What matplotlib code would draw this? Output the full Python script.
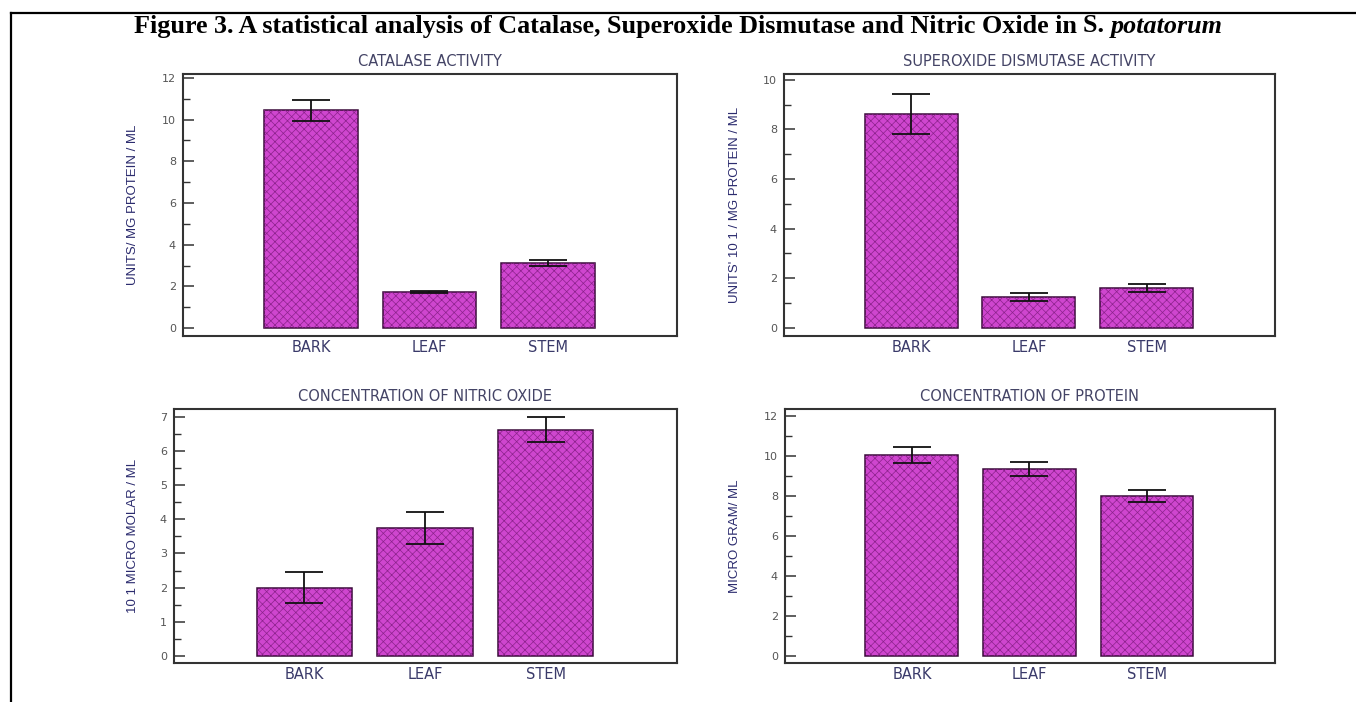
import numpy as np
import matplotlib
matplotlib.use("Agg")
import matplotlib.pyplot as plt
from matplotlib.lines import Line2D

# data
tissues = ["BARK", "LEAF", "STEM"]

catalase = [10.45, 1.72, 3.12]
catalase_err = [0.5, 0.06, 0.16]

sod = [8.62, 1.25, 1.6]
sod_err = [0.8, 0.16, 0.17]

nitric = [2.0, 3.75, 6.62]
nitric_err = [0.45, 0.47, 0.37]

protein = [10.05, 9.35, 8.0]
protein_err = [0.42, 0.37, 0.3]

titles = ["CATALASE ACTIVITY", "SUPEROXIDE DISMUTASE ACTIVITY",
          "CONCENTRATION OF NITRIC OXIDE", "CONCENTRATION OF PROTEIN"]
ylabels = ["UNITS/ MG PROTEIN / ML", "UNITS' 10 1 / MG PROTEIN / ML",
           "10 1 MICRO MOLAR / ML", "MICRO GRAM/ ML"]

W, H = 1356, 702
plt.rcParams["hatch.linewidth"] = 0.5
fig = plt.figure(figsize=(W / 100, H / 100), dpi=100)

# axes boxes in pixels: left, right, top, bottom
boxes = [(183, 677, 74, 336), (784, 1275, 74, 336),
         (174, 677, 409, 663), (785, 1275, 409, 663)]
ylims = [(-0.38, 12.19), (-0.34, 10.24), (-0.2, 7.22), (-0.35, 12.35)]
majors = [2, 2, 1, 2]
label_dx = [50, 49, 41, 50]
series = [(catalase, catalase_err), (sod, sod_err),
          (nitric, nitric_err), (protein, protein_err)]

navy = "#2b2b6e"
x = np.arange(len(tissues))

for i, (vals, errs) in enumerate(series):
    l, r, t, b = boxes[i]
    ax = fig.add_axes([l / W, 1 - b / H, (r - l) / W, (b - t) / H])
    ax.bar(x, vals, width=0.79, color="#cf46cf", edgecolor="#3a0a3a",
           linewidth=1.1, zorder=2)
    ax.bar(x, vals, width=0.79, color="none", edgecolor="#8c228c",
           hatch="xxxx", linewidth=0, zorder=2.5)
    ax.errorbar(x, vals, yerr=errs, fmt="none", ecolor="#111111",
                elinewidth=1.3, capsize=13.5, capthick=1.3, zorder=3)
    ax.set_xlim(-1.08, 3.09)
    ax.set_ylim(*ylims[i])
    top = int(ylims[i][1])
    ax.set_yticks(np.arange(0, top + 1, majors[i]))
    ax.set_yticks(np.arange(majors[i] / 2, top, majors[i]), minor=True)
    ax.tick_params(axis="y", which="major", direction="in", length=8,
                   width=1.1, color="#333333", labelsize=8,
                   labelcolor="#555555", pad=5)
    ax.tick_params(axis="y", which="minor", direction="in", length=5,
                   width=1.0, color="#333333")
    ax.set_xticks(x)
    ax.set_xticklabels(tissues)
    ax.tick_params(axis="x", length=0, labelsize=10.5, labelcolor="#3a3a6a",
                   pad=3)
    for sp in ax.spines.values():
        sp.set_color("#333333")
        sp.set_linewidth(1.5)
    ax.set_title(titles[i], fontsize=10.5, color="#444466", pad=6)
    ax.set_ylabel(ylabels[i], fontsize=9.5, color=navy,
                  family="Liberation Sans")
    ax.yaxis.set_label_coords(-(label_dx[i] - 6) / (r - l), 0.5)

# figure heading: bold, with the genus/species part in bold italic
renderer = fig.canvas.get_renderer()
part1 = "Figure 3. A statistical analysis of Catalase, Superoxide Dismutase and Nitric Oxide in "
part2a = "S. "
part2b = "potatorum"
fs = 18.8
t1 = fig.text(0, 1 - 26 / H, part1, fontsize=fs, fontweight="bold",
              family="Liberation Serif", va="center")
t2 = fig.text(0, 1 - 26 / H, part2a, fontsize=fs, fontweight="bold",
              family="Liberation Serif", va="center")
t3 = fig.text(0, 1 - 26 / H, part2b, fontsize=fs, fontweight="bold",
              style="italic", family="Liberation Serif", va="center")
w1 = t1.get_window_extent(renderer).width
w2 = t2.get_window_extent(renderer).width
w3 = t3.get_window_extent(renderer).width
x0 = 678 - (w1 + w2 + w3) / 2
t1.set_x(x0 / W)
t2.set_x((x0 + w1) / W)
t3.set_x((x0 + w1 + w2) / W)

# partial frame around the figure (top and left edges visible)
fig.add_artist(Line2D([11 / W, 1], [1 - 13 / H, 1 - 13 / H], color="black",
                      linewidth=1.6, transform=fig.transFigure))
fig.add_artist(Line2D([11 / W, 11 / W], [0, 1 - 13 / H], color="black",
                      linewidth=1.6, transform=fig.transFigure))

fig.savefig("out.png", dpi=100)
